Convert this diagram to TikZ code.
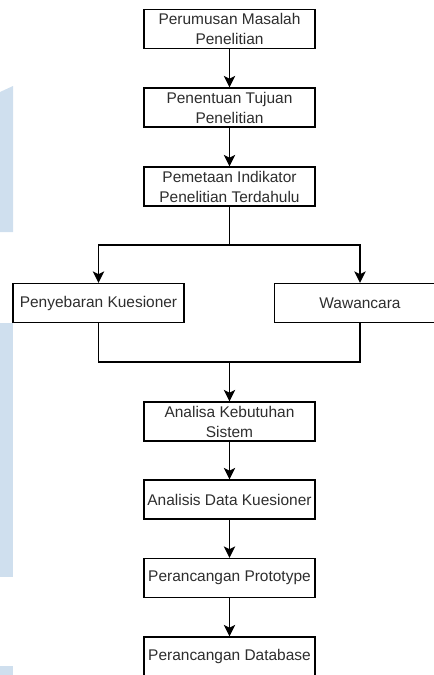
\documentclass[tikz,border=0pt]{standalone}
\usepackage{fontspec}
\setmainfont{Liberation Sans}
\usetikzlibrary{arrows.meta}
\definecolor{wm}{HTML}{CFDFEE}
\definecolor{txt}{HTML}{2E2E2E}
\begin{document}
\begin{tikzpicture}[x=0.75pt,y=-0.75pt,
  stepbox/.style={draw=black, line width=1.05pt, fill=white, minimum width=128.25pt, minimum height=29.25pt,
    inner sep=0pt, align=center, text=txt, font=\fontsize{11.6pt}{15pt}\selectfont},
  conn/.style={line width=1.4pt, -{Stealth[width=8.5pt,length=8.5pt,inset=2pt]}},
  plain/.style={line width=1.4pt}]
\useasboundingbox (0,0) rectangle (434,675);
\clip (0,0) rectangle (434,675);
% watermark shapes
\fill[wm] (0,92) -- (13,86) -- (13,232) -- (0,232) -- cycle;
\fill[wm] (0,323) rectangle (13,577);
\fill[wm] (0,666) rectangle (13,675);
% nodes
\node[stepbox] (b1) at (229.5,29) {Perumusan Masalah\\Penelitian};
\node[stepbox] (b2) at (229.5,107.5) {Penentuan Tujuan\\Penelitian};
\node[stepbox] (b3) at (229.5,186.5) {Pemetaan Indikator\\Penelitian Terdahulu};
\node[stepbox] (kues) at (98.5,303) {Penyebaran Kuesioner};
\node[stepbox] (waw) at (360,303) {Wawancara};
\node[stepbox] (b4) at (229.5,421.5) {Analisa Kebutuhan\\Sistem};
\node[stepbox] (b5) at (229.5,499.5) {Analisis Data Kuesioner};
\node[stepbox] (b6) at (229.5,578) {Perancangan Prototype};
\node[stepbox] (b7) at (229.5,656.5) {Perancangan Database};
\coordinate (split) at (229.5,245);
\coordinate (merge) at (229.5,362);
% connectors
\draw[conn] (b1) -- (b2);
\draw[conn] (b2) -- (b3);
\draw[plain] (b3) -- (split);
\draw[conn] (split) -| (kues);
\draw[conn] (split) -| (waw);
\draw[plain] (kues) |- (merge);
\draw[plain] (waw) |- (merge);
\draw[conn] (merge) -- (b4);
\draw[conn] (b4) -- (b5);
\draw[conn] (b5) -- (b6);
\draw[conn] (b6) -- (b7);
\end{tikzpicture}
\end{document}
